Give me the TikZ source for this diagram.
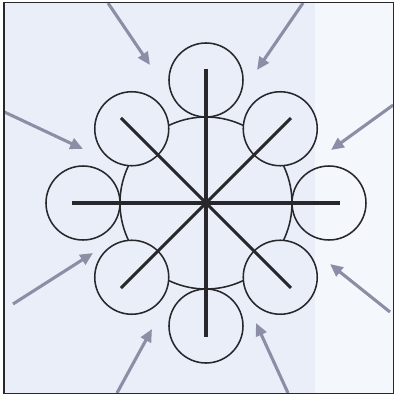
\documentclass[tikz,border=0pt]{standalone}
\usepackage{tikz}
\usetikzlibrary{arrows.meta}

\definecolor{paper}{RGB}{233,238,248}
\definecolor{paperlight}{RGB}{244,247,251}
\definecolor{pushgrey}{RGB}{140,142,166}
\definecolor{ink}{RGB}{40,40,44}

\begin{document}
\begin{tikzpicture}[
  ball/.style={draw=ink, line width=1.1pt},
  spoke/.style={draw=ink, line width=2.2pt},
  push/.style={draw=pushgrey, line width=2.2pt, -{Triangle[length=0.32cm,width=0.28cm]}}
]
\useasboundingbox (-5.15,-4.85) rectangle (4.725,5.075);
\fill[paper] (-5.05,-4.76) rectangle (2.725,5.01);
\fill[paperlight] (2.725,-4.76) rectangle (4.69,5.01);

% central disc, hidden under the small discs
\begin{scope}[even odd rule]
\clip (-6,-6) rectangle (6,6)
  (90:3.075) circle (0.925) (270:3.075) circle (0.925)
  (0:3.075) circle (0.925) (180:3.075) circle (0.925)
  (45:2.625) circle (0.925) (135:2.625) circle (0.925)
  (225:2.625) circle (0.925) (315:2.625) circle (0.925);
\draw[ball] (0,0) circle (2.15);
\end{scope}

\draw[ball] (90:3.075) circle (0.925);
\draw[ball] (270:3.075) circle (0.925);
\draw[ball] (0:3.075) circle (0.925);
\draw[ball] (180:3.075) circle (0.925);
\draw[ball] (45:2.625) circle (0.925);
\draw[ball] (135:2.625) circle (0.925);
\draw[ball] (225:2.625) circle (0.925);
\draw[ball] (315:2.625) circle (0.925);

\draw[spoke] (0,3.35) -- (0,-3.35);
\draw[spoke] (-3.35,0) -- (3.35,0);
\draw[spoke] (-2.125,2.125) -- (2.125,-2.125);
\draw[spoke] (2.125,2.125) -- (-2.125,-2.125);

% pressure from outside
\draw[push] (-2.45,5.0) -- (-1.4,3.45);
\draw[push] (2.425,5.0) -- (1.275,3.325);
\draw[push] (-5.04,2.275) -- (-3.075,1.35);
\draw[push] (4.68,2.45) -- (3.125,1.325);
\draw[push] (-4.825,-2.525) -- (-2.825,-1.25);
\draw[push] (4.6,-2.725) -- (3.1,-1.525);
\draw[push] (-2.225,-4.75) -- (-1.35,-3.15);
\draw[push] (2.05,-4.75) -- (1.25,-3.0);

\draw[draw=ink, line width=1.1pt] (-5.05,-4.76) rectangle (4.69,5.01);
\end{tikzpicture}
\end{document}
